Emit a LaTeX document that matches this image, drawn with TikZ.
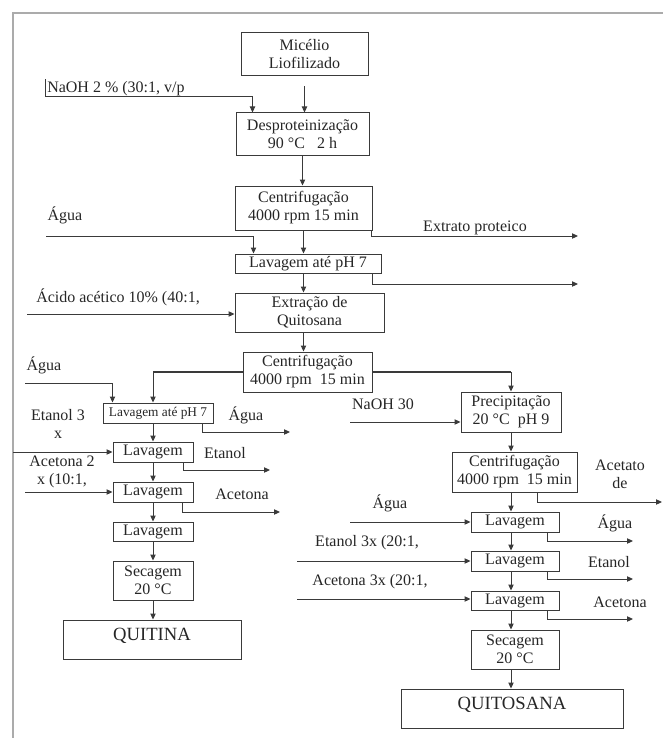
\documentclass[tikz,border=0pt]{standalone}
\usepackage{fontspec}
\setmainfont{Liberation Serif}
\usetikzlibrary{arrows.meta}
\definecolor{linec}{HTML}{3A3A3A}
\definecolor{framec}{HTML}{ABABAB}

\begin{document}
\begin{tikzpicture}[
        x=0.75pt,
        y=-0.75pt,
        every node/.style={font=\fontsize{12}{13.5}\selectfont, text=black!85, inner sep=0pt},
        box/.style={draw=linec, line width=0.75pt, align=center},
        sz/.style 2 args={minimum width=#1*0.75pt, minimum height=#2*0.75pt},
        txt/.style={align=center},
        small/.style={font=\fontsize{10}{12}\selectfont},
        big/.style={font=\fontsize{14}{16}\selectfont, text height=15pt, text depth=14.25pt},
        arr/.style={draw=linec, line width=0.75pt, -{Triangle[length=4.5pt,width=4pt]}},
        thk/.style={draw=linec, line width=1.6pt}
    ]
        \useasboundingbox (0,0) rectangle (663,738);

        % Frame
        \draw[framec, line width=1.5pt] (13,738) -- (13,13) -- (663,13);

        % Main column
        \node[box, sz={127}{43}] (mic) at (304.5,54.5) {Micélio\\Liofilizado};
        \node[box, sz={133}{43}] (desp) at (302.5,134.5) {Desproteinização\\90~°C~~~2~h};
        \node[box, sz={137}{44}] (cent1) at (303.5,208) {Centrifugação\\4000 rpm 15 min};
        \node[box, sz={146}{19}] (lav1) at (308,263.5) {Lavagem até pH 7};
        \node[box, sz={149}{39}] (extr) at (309.5,312.5) {Extração de\\Quitosana};
        \node[box, sz={129}{40}] (cent2) at (307.5,372) {Centrifugação\\4000 rpm~~15 min};

        % Inputs and outputs of the main column
        \node[anchor=south west, inner xsep=1.5pt, minimum height=17*0.75pt] (naoh) at (45,97) {NaOH 2 \% (30:1, v/p};
        \node (aguaT) at (65,215) {Água};
        \node (extrato) at (475,228) {Extrato proteico};
        \node (acido) at (118,297) {Ácido acético 10\% (40:1,};
        \coordinate (aguaTs) at (46,236);
        \coordinate (extratoE) at (578,236);
        \coordinate (lav1E) at (578,284);
        \coordinate (acidoS) at (27,314);

        \draw[linec, line width=0.75pt] (naoh.north west) -- (naoh.south west) -- (naoh.south east);
        \draw[arr] (naoh.south east) -| ([xshift=12.75pt]desp.north west);
        \draw[arr] ([yshift=-7.5pt]mic.south) -- (mic.south |- desp.north);
        \draw[arr] (desp.south) -- (desp.south |- cent1.north);
        \draw[arr] (aguaTs) -| ([xshift=14.25pt]lav1.north west);
        \draw[arr] (cent1.south) -- (cent1.south |- lav1.north);
        \draw[arr] ([xshift=-0.75pt]cent1.south east) |- (extratoE);
        \draw[arr] (cent1.south |- lav1.south) -- (cent1.south |- extr.north);
        \draw[arr] ([xshift=-6.75pt]lav1.south east) |- (lav1E);
        \draw[arr] (acidoS) -- (acidoS -| extr.west);
        \draw[arr] (cent1.south |- extr.south) -- (cent1.south |- cent2.north);

        % Left branch (quitina)
        \node[box, small, sz={110}{20}] (lavL0) at (158,413) {Lavagem até pH 7};
        \node[box, sz={80}{20}] (lavL1) at (153,452) {Lavagem};
        \node[box, sz={80}{20}] (lavL2) at (153,492) {Lavagem};
        \node[box, sz={80}{19}] (lavL3) at (153,531.5) {Lavagem};
        \node[box, sz={80}{39}] (secL) at (153,580.5) {Secagem\\20 °C};
        \node[box, big, sz={178}{39}] (quitina) at (152,639.5) {QUITINA};

        \node (aguaL) at (44,365) {Água};
        \node (aguaLo) at (246,415) {Água};
        \node[txt] (etanolL) at (58,424) {Etanol 3\\x};
        \node (etanolLo) at (225,453) {Etanol};
        \node[txt] (acetonaL) at (62,472) {Acetona 2\\x (10:1,};
        \node (acetonaLo) at (242,494) {Acetona};
        \coordinate (aguaLs) at (25,383);
        \coordinate (aguaLoE) at (290,432);
        \coordinate (etanolLs) at (13,452);
        \coordinate (etanolLoE) at (270,470);
        \coordinate (acetonaLs) at (25,492);
        \coordinate (acetonaLoE) at (280,512);

        \draw[thk] (cent2.west) -- (cent2.west -| lavL1.north);
        \draw[arr] (cent2.west -| lavL1.north) -- (lavL1.north |- lavL0.north);
        \draw[arr] (aguaLs) -| (lavL1.west |- lavL0.north);
        \draw[arr] ([xshift=-8.25pt]lavL0.south east) |- (aguaLoE);
        \draw[arr] (lavL1.north |- lavL0.south) -- (lavL1.north);
        \draw[arr] (etanolLs) -- (lavL1.west);
        \draw[arr] ([xshift=-7.5pt]lavL1.south east) |- (etanolLoE);
        \draw[arr] (lavL1.south) -- (lavL2.north);
        \draw[arr] (acetonaLs) -- (lavL2.west);
        \draw[arr] ([xshift=-8.25pt]lavL2.south east) |- (acetonaLoE);
        \draw[arr] (lavL2.south) -- (lavL3.north);
        \draw[arr] (lavL3.south) -- (secL.north);
        \draw[arr] (secL.south) -- (secL.south |- quitina.north);

        % Right branch (quitosana)
        \node[box, sz={100}{40}] (prec) at (511,412) {Precipitação\\20 °C~~pH 9};
        \node[box, sz={125}{40}] (cent3) at (514.5,472) {Centrifugação\\4000 rpm~~15 min};
        \node[box, sz={88}{20}] (lavR1) at (515,522) {Lavagem};
        \node[box, sz={88}{20}] (lavR2) at (515,561) {Lavagem};
        \node[box, sz={88}{19}] (lavR3) at (515,600.5) {Lavagem};
        \node[box, sz={88}{39}] (secR) at (515,649.5) {Secagem\\20 °C};
        \node[box, big, sz={222}{39}] (quitosana) at (512,708.5) {QUITOSANA};

        \node (naohR) at (383,404) {NaOH 30};
        \node[txt] (acetato) at (620,474) {Acetato\\de};
        \node (aguaR) at (390,503) {Água};
        \node (aguaRo) at (615,523) {Água};
        \node (etanolR) at (367,543) {Etanol 3x (20:1,};
        \node (etanolRo) at (609,562) {Etanol};
        \node (acetonaR) at (370,582) {Acetona 3x (20:1,};
        \node (acetonaRo) at (620,602) {Acetona};
        \coordinate (naohRs) at (350,422);
        \coordinate (acetatoE) at (662,502);
        \coordinate (aguaRs) at (350,522);
        \coordinate (aguaRoE) at (633,541);
        \coordinate (etanolRs) at (297,561);
        \coordinate (etanolRoE) at (633,579);
        \coordinate (acetonaRs) at (297,599);
        \coordinate (acetonaRoE) at (633,619);

        \draw[thk] (cent2.east) -- (cent2.east -| prec.north);
        \draw[arr] (cent2.east -| prec.north) -- (prec.north);
        \draw[arr] (naohRs) -- (naohRs -| prec.west);
        \draw[arr] (prec.south) -- (prec.south |- cent3.north);
        \draw[arr] ([xshift=-30pt]cent3.south east) |- (acetatoE);
        \draw[arr] (prec.south |- cent3.south) -- (prec.south |- lavR1.north);
        \draw[arr] (aguaRs) -- (aguaRs -| lavR1.west);
        \draw[arr] ([xshift=-9pt]lavR1.south east) |- (aguaRoE);
        \draw[arr] (prec.south |- lavR1.south) -- (prec.south |- lavR2.north);
        \draw[arr] (etanolRs) -- (etanolRs -| lavR2.west);
        \draw[arr] ([xshift=-9pt]lavR2.south east) |- (etanolRoE);
        \draw[arr] (prec.south |- lavR2.south) -- (prec.south |- lavR3.north);
        \draw[arr] (acetonaRs) -- (acetonaRs -| lavR3.west);
        \draw[arr] ([xshift=-9pt]lavR3.south east) |- (acetonaRoE);
        \draw[arr] (prec.south |- lavR3.south) -- (prec.south |- secR.north);
        \draw[arr] (prec.south |- secR.south) -- (prec.south |- quitosana.north);
    \end{tikzpicture}
\end{document}
